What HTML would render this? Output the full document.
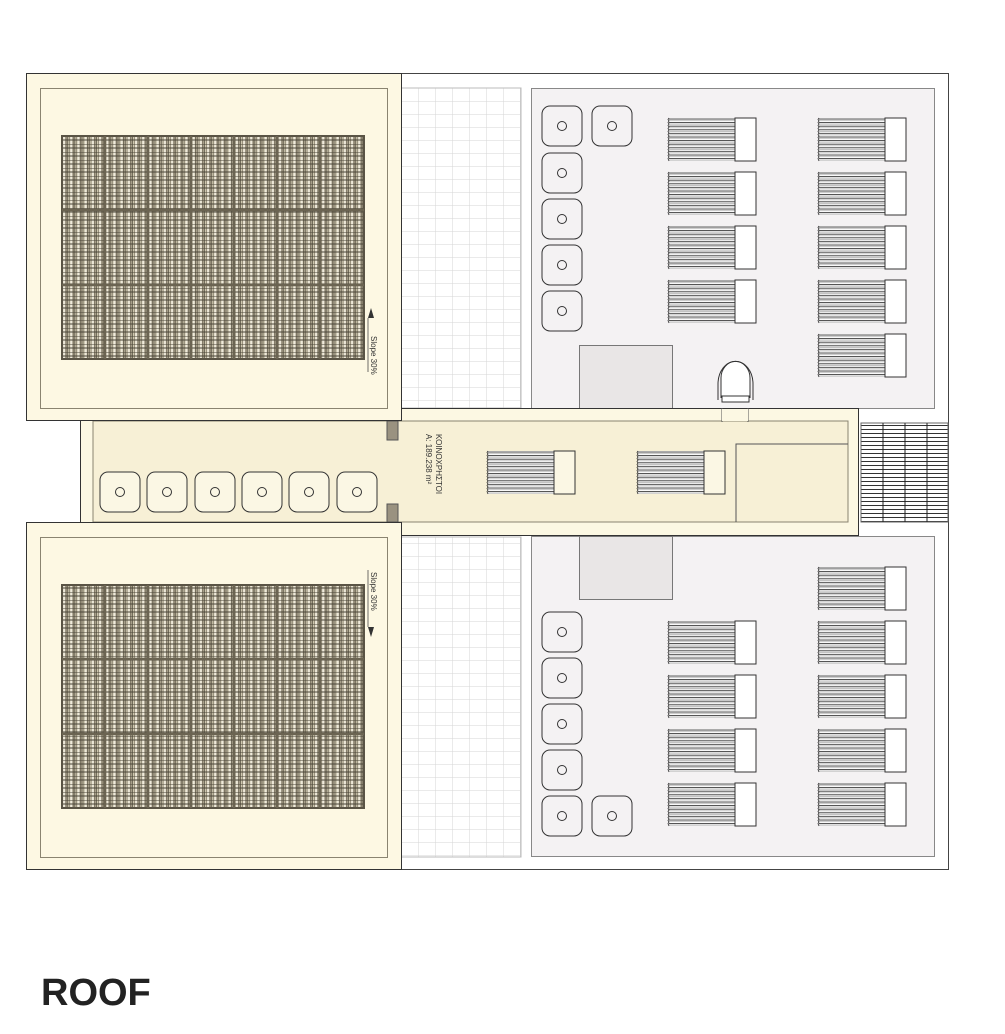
<!DOCTYPE html>
<html><head><meta charset="utf-8"><style>
html,body{margin:0;padding:0;background:#fff;}
svg{display:block;}
</style></head><body>
<svg width="1005" height="1034" viewBox="0 0 1005 1034" xmlns="http://www.w3.org/2000/svg">
<defs>
<pattern id="wgrid" x="401" y="88" width="17" height="13" patternUnits="userSpaceOnUse">
<rect width="17" height="13" fill="#fff"/>
<path d="M0 0H17M0 0V13" stroke="#d6d6d6" stroke-width="1"/>
</pattern>
<pattern id="panel" x="62" y="136" width="7.2" height="8" patternUnits="userSpaceOnUse">
<rect width="7.2" height="8" fill="#cfc8b0"/>
<rect x="1.2" width="1.8" height="8" fill="#efeadb"/>
<path d="M0 0V8M4 0V8M5.6 0V8" stroke="#5a5343" stroke-width="0.9"/>
<path d="M0 0H7.2M0 4H7.2" stroke="#4a4538" stroke-width="0.9"/>
</pattern>
<pattern id="grille" x="861" y="424" width="10" height="4" patternUnits="userSpaceOnUse">
<rect width="10" height="4" fill="#fff"/>
<path d="M0 1.5H10" stroke="#333" stroke-width="1"/>
</pattern>
<g id="ac">
<rect x="0" y="0" width="40" height="40" rx="8" fill="none" stroke="#333" stroke-width="1"/>
<circle cx="20" cy="20" r="4.5" fill="none" stroke="#333" stroke-width="1"/>
</g>
<g id="acy">
<rect x="0" y="0" width="40" height="40" rx="8" fill="#fbf7e4" stroke="#333" stroke-width="1"/>
<circle cx="20" cy="20" r="4.5" fill="none" stroke="#333" stroke-width="1"/>
</g>
<pattern id="fins" x="0" y="0" width="66" height="3.6" patternUnits="userSpaceOnUse">
<rect width="66" height="3.6" fill="#fff"/>
<path d="M0 1H66" stroke="#333" stroke-width="0.9"/>
<path d="M0 2.6H66" stroke="#aaa" stroke-width="0.6"/>
</pattern>
<g id="rad">
<rect x="0" y="0" width="66" height="43" fill="url(#fins)"/>
<path d="M0 0 L-1 1.5 L0 3 L-1 4.5 L0 6 L-1 7.5 L0 9 L-1 10.5 L0 12 L-1 13.5 L0 15 L-1 16.5 L0 18 L-1 19.5 L0 21 L-1 22.5 L0 24 L-1 25.5 L0 27 L-1 28.5 L0 30 L-1 31.5 L0 33 L-1 34.5 L0 36 L-1 37.5 L0 39 L-1 40.5 L0 43" fill="none" stroke="#333" stroke-width="0.8"/>
<rect x="66" y="0" width="21" height="43" fill="#fff" stroke="#333" stroke-width="1"/>
</g>
<g id="rady">
<rect x="0" y="0" width="66" height="43" fill="url(#fins)"/>
<path d="M0 0 L-1 1.5 L0 3 L-1 4.5 L0 6 L-1 7.5 L0 9 L-1 10.5 L0 12 L-1 13.5 L0 15 L-1 16.5 L0 18 L-1 19.5 L0 21 L-1 22.5 L0 24 L-1 25.5 L0 27 L-1 28.5 L0 30 L-1 31.5 L0 33 L-1 34.5 L0 36 L-1 37.5 L0 39 L-1 40.5 L0 43" fill="none" stroke="#333" stroke-width="0.8"/>
<rect x="66" y="0" width="21" height="43" fill="#fbf7e4" stroke="#333" stroke-width="1"/>
</g>
</defs>

<rect x="26.5" y="73.5" width="922" height="796" fill="#fff" stroke="none"/>
<path d="M401 73.5H948.5V869.5H401" fill="none" stroke="#444"/>

<rect x="401" y="88" width="120" height="320" fill="url(#wgrid)" stroke="#bbb"/>
<rect x="401" y="537" width="120" height="320" fill="url(#wgrid)" stroke="#bbb"/>

<rect x="531.5" y="88.5" width="403" height="320" fill="#f4f2f3" stroke="#888"/>
<rect x="531.5" y="536.5" width="403" height="320" fill="#f4f2f3" stroke="#888"/>
<rect x="579.5" y="345.5" width="93" height="63" fill="#e9e6e6" stroke="#777"/>
<rect x="579.5" y="536.5" width="93" height="63" fill="#e9e6e6" stroke="#777"/>

<rect x="861" y="423" width="87" height="99" fill="url(#grille)" stroke="#666"/>
<path d="M883 423V522M905 423V522M927 423V522" stroke="#222" stroke-width="1"/>

<rect x="80.5" y="408.5" width="778" height="127" fill="#fcf8e3" stroke="#333"/>
<rect x="93" y="421" width="755" height="101" fill="#f7f0d6" stroke="#8a8470" stroke-width="1"/>
<path d="M736 522V444H848" fill="none" stroke="#555"/>
<path d="M722 408V422M748 408V422" stroke="#555"/>
<rect x="722" y="409" width="26" height="12" fill="#fcf8e3"/>
<rect x="387" y="421" width="11" height="19" fill="#9a9280" stroke="#555"/>
<rect x="387" y="504" width="11" height="18" fill="#9a9280" stroke="#555"/>

<path d="M721 398 V378 A14 16 0 0 1 750 378 V398" fill="#fff" stroke="#333"/>
<path d="M718 400 V384 A17 22 0 0 1 753 384 V400" fill="none" stroke="#333"/>
<rect x="722" y="396" width="27" height="6" fill="#fff" stroke="#333"/>

<rect x="26.5" y="73.5" width="375" height="347" fill="#fdf8e3" stroke="#333"/>
<rect x="40.5" y="88.5" width="347" height="320" fill="#fdf8e3" stroke="#8a8470"/>
<rect x="62" y="136" width="302" height="223" fill="url(#panel)" stroke="#5a5445" stroke-width="2"/>
<path d="M105 136V359M148 136V359M191 136V359M234 136V359M277 136V359M320 136V359M62 210H364M62 285H364" stroke="#6b6452" stroke-width="2.5"/>

<rect x="26.5" y="522.5" width="375" height="347" fill="#fdf8e3" stroke="#333"/>
<rect x="40.5" y="537.5" width="347" height="320" fill="#fdf8e3" stroke="#8a8470"/>
<rect x="62" y="585" width="302" height="223" fill="url(#panel)" stroke="#5a5445" stroke-width="2"/>
<path d="M105 585V808M148 585V808M191 585V808M234 585V808M277 585V808M320 585V808M62 659H364M62 734H364" stroke="#6b6452" stroke-width="2.5"/>

<path d="M368 318L371 308L374 318Z" fill="#333"/><path d="M368 318V372" stroke="#333" stroke-width="0.7"/>
<text transform="translate(371,336) rotate(90)" font-family="Liberation Sans, sans-serif" font-size="8" fill="#333">Slope 30%</text>
<path d="M368 627L371 637L374 627Z" fill="#333"/><path d="M368 570V627" stroke="#333" stroke-width="0.7"/>
<text transform="translate(371,572) rotate(90)" font-family="Liberation Sans, sans-serif" font-size="8" fill="#333">Slope 30%</text>

<text transform="translate(436,434) rotate(90)" font-family="Liberation Sans, sans-serif" font-size="8" fill="#333">ΚΟΙΝΟΧΡΗΣΤΟΙ</text>
<text transform="translate(426,434) rotate(90)" font-family="Liberation Sans, sans-serif" font-size="8" fill="#333">Α:   189.238 m²</text>

<use href="#acy" x="100" y="472"/><use href="#acy" x="147" y="472"/><use href="#acy" x="195" y="472"/>
<use href="#acy" x="242" y="472"/><use href="#acy" x="289" y="472"/><use href="#acy" x="337" y="472"/>
<use href="#rady" x="488" y="451"/><use href="#rady" x="638" y="451"/>

<use href="#ac" x="542" y="106"/><use href="#ac" x="592" y="106"/>
<use href="#ac" x="542" y="153"/><use href="#ac" x="542" y="199"/><use href="#ac" x="542" y="245"/><use href="#ac" x="542" y="291"/>
<use href="#ac" x="542" y="612"/><use href="#ac" x="542" y="658"/><use href="#ac" x="542" y="704"/><use href="#ac" x="542" y="750"/>
<use href="#ac" x="542" y="796"/><use href="#ac" x="592" y="796"/>

<use href="#rad" x="669" y="118"/><use href="#rad" x="669" y="172"/><use href="#rad" x="669" y="226"/><use href="#rad" x="669" y="280"/>
<use href="#rad" x="819" y="118"/><use href="#rad" x="819" y="172"/><use href="#rad" x="819" y="226"/><use href="#rad" x="819" y="280"/><use href="#rad" x="819" y="334"/>
<use href="#rad" x="669" y="621"/><use href="#rad" x="669" y="675"/><use href="#rad" x="669" y="729"/><use href="#rad" x="669" y="783"/>
<use href="#rad" x="819" y="567"/><use href="#rad" x="819" y="621"/><use href="#rad" x="819" y="675"/><use href="#rad" x="819" y="729"/><use href="#rad" x="819" y="783"/>

<text x="41" y="1005" font-family="Liberation Sans, sans-serif" font-weight="bold" font-size="38" fill="#222">ROOF</text>
</svg>
</body></html>
